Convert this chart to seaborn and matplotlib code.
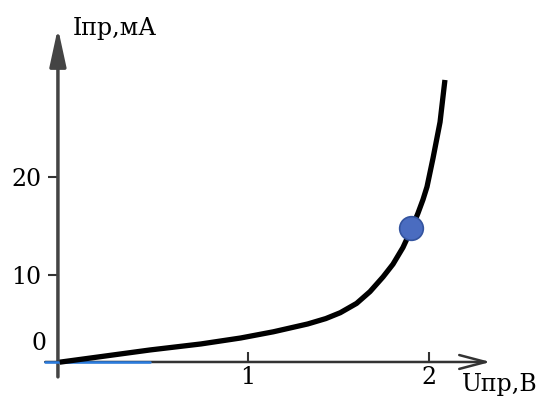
import numpy as np
import pandas as pd
import matplotlib.pyplot as plt
import seaborn as sns

# forward branch of a diode I-V curve
u_volts = [-0.04, 0.20, 0.46, 0.74, 0.96, 1.14, 1.33, 1.43, 1.51, 1.60, 1.674, 1.746,
           1.801, 1.856, 1.901, 1.939, 1.967, 1.989, 2.022, 2.061, 2.088]
i_ma = [1.1, 1.7, 2.35, 2.96, 3.57, 4.2, 5.0, 5.55, 6.15, 7.1, 8.3, 9.8,
        11.1, 12.8, 14.6, 16.3, 17.7, 19.0, 21.9, 25.6, 29.9]
point_u = [1.901]
point_i = [14.8]
x_ticks = [1, 2]
y_ticks = [10, 20]

df = pd.DataFrame({'U': u_volts, 'I': i_ma})

sns.set_style('white')
plt.rcParams['font.family'] = ['DejaVu Serif', 'Liberation Serif']
plt.rcParams['text.color'] = 'black'

fig = plt.figure(figsize=(5.53, 4.05), dpi=100)
ax = fig.add_axes([0, 0, 1, 1])
ax.set_xlim(-0.37, 2.685)
ax.set_ylim(-3.27, 38.06)

x0, y0 = -0.05, 1.12  # where the axes cross

ax.spines['left'].set_position(('data', x0))
ax.spines['bottom'].set_position(('data', y0))
for s in ax.spines.values():
    s.set_visible(False)

ax.set_xticks(x_ticks)
ax.set_yticks(y_ticks)
ax.tick_params(axis='x', bottom=True, direction='in', length=7, width=1.5,
               color='#333333', labelcolor='black', labelsize=17, pad=3)
ax.tick_params(axis='y', left=True, direction='out', length=7, width=1.5,
               color='#333333', labelcolor='black', labelsize=17, pad=5)

# axis lines with arrows
ax.annotate('', xy=(x0, 35.2), xytext=(x0, -0.4),
            arrowprops=dict(arrowstyle='-|>,head_length=2.3,head_width=0.5',
                            mutation_scale=10, color='#444444', lw=2.5,
                            shrinkA=0, shrinkB=0))
ax.annotate('', xy=(2.34, y0), xytext=(-0.12, y0),
            arrowprops=dict(arrowstyle='->,head_length=1.9,head_width=0.5',
                            mutation_scale=10, color='#333333', lw=1.8,
                            shrinkA=0, shrinkB=0))
ax.plot([-0.12, 0.46], [y0, y0], color='#2a7de1', lw=1.8, zorder=3)

sns.lineplot(data=df, x='U', y='I', sort=False, color='black', lw=3.8, ax=ax,
             zorder=4, solid_joinstyle='round', solid_capstyle='butt')
ax.scatter(point_u, point_i, s=290, color='#4a6cc0', edgecolor='#34549f',
           linewidth=1.2, zorder=5)

ax.text(-0.155, 3.0, '0', fontsize=17, ha='center', va='center')
ax.text(0.033, 35.2, 'Iпр,мА', fontsize=17, ha='left', va='center')
ax.text(2.18, -1.22, 'Uпр,В', fontsize=17, ha='left', va='center')

ax.set_xlabel('')
ax.set_ylabel('')
fig.savefig('out.png', dpi=100)
